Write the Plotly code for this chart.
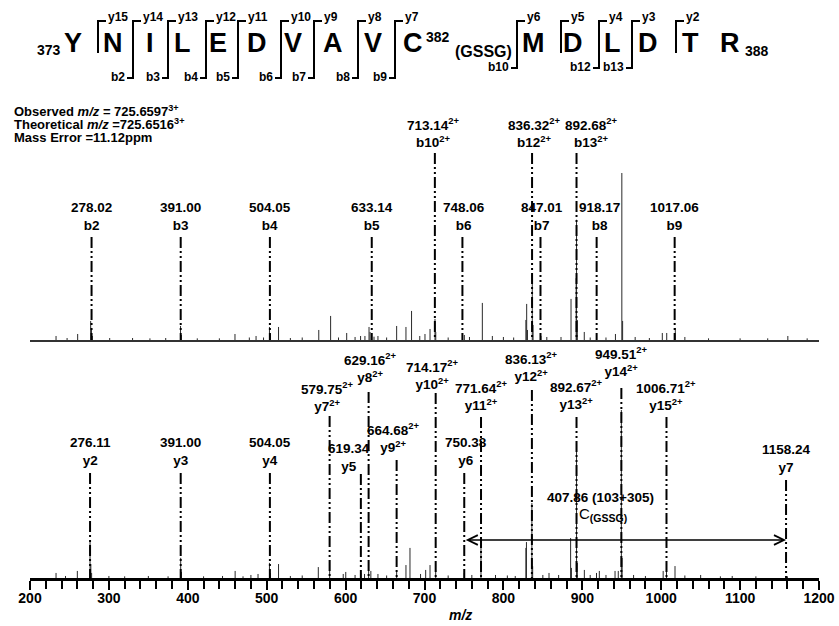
import plotly.graph_objects as go

FIG_W, FIG_H = 839, 626

# ---------------- peptide sequence (residues 373-388) ----------------
residues = ["Y", "N", "I", "L", "E", "D", "V", "A", "V", "C", "M", "D", "L", "D", "T", "R"]
start_no, cys_no, end_no = "373", "382", "388"
cys_mod = "(GSSG)"

# fragment cleavage marks between residues: y ion above, b ion below
cleave_y = ["y15", "y14", "y13", "y12", "y11", "y10", "y9", "y8", "y7", "y6", "y5", "y4", "y3", "y2"]
cleave_b = [None, "b2", "b3", "b4", "b5", "b6", "b7", "b8", "b9", "b10", None, "b12", "b13", None]

# precursor information
observed_mz = "725.6597"
theoretical_mz = "725.6516"
mass_error = "11.12ppm"

# ---------------- spectra (m/z, relative intensity %) ----------------
top_mz = [233.0, 247.0, 260.4, 276.9, 277.9, 279.0, 301.0, 330.0, 352.0, 372.0,
          390.8, 391.8, 412.0, 440.0, 459.8, 478.0, 486.5, 496.0, 503.5, 504.5,
          515.0, 530.0, 545.0, 566.0, 581.0, 591.0, 601.4, 612.0, 619.0, 624.5,
          629.7, 631.0, 636.0, 641.0, 652.0, 664.7, 676.5, 683.6, 694.0, 700.6,
          707.0, 713.3, 714.3, 730.0, 750.5, 757.0, 773.3, 786.0, 800.0, 813.0,
          828.5, 829.5, 830.5, 836.6, 837.6, 847.5, 855.0, 873.0, 885.7, 892.2,
          892.7, 893.7, 902.5, 910.0, 918.0, 930.0, 942.0, 950.1, 951.1, 967.0,
          985.0, 1001.4, 1007.0, 1017.9, 1030.0, 1060.0, 1100.0, 1135.0, 1160.5, 1185.0]
top_int = [2.4, 1.2, 3.6, 11.4, 7.2, 2.4, 1.2, 1.2, 1.0, 1.2,
           8.4, 3.0, 1.0, 1.0, 3.6, 1.5, 2.4, 1.5, 7.8, 4.0,
           7.8, 1.2, 1.5, 6.0, 14.4, 1.5, 4.2, 1.8, 2.4, 2.4,
           7.8, 4.8, 2.0, 2.4, 1.5, 8.4, 7.8, 17.4, 2.4, 3.6,
           6.6, 12.6, 4.8, 1.5, 3.0, 1.8, 22.2, 2.4, 1.8, 1.5,
           12.0, 21.6, 6.0, 39.0, 9.0, 2.4, 1.8, 1.8, 24.6, 37.0,
           72.0, 12.0, 4.8, 1.5, 3.0, 1.5, 3.6, 100.0, 11.4, 1.8,
           1.2, 4.2, 4.2, 7.2, 1.8, 1.0, 1.0, 1.0, 2.4, 1.0]

bot_mz = [233.0, 245.0, 260.0, 276.1, 277.1, 278.1, 300.0, 320.0, 350.0, 375.0,
          391.0, 392.0, 420.0, 444.0, 460.0, 470.0, 480.0, 489.0, 503.5, 504.5,
          515.0, 530.0, 545.0, 565.4, 579.8, 597.0, 600.2, 612.0, 619.3, 624.0,
          629.2, 632.0, 641.0, 652.0, 664.7, 676.5, 681.6, 695.0, 701.5, 707.0,
          714.2, 730.0, 750.4, 760.0, 771.6, 790.0, 805.0, 815.0, 828.5, 829.2,
          836.1, 837.1, 850.0, 857.8, 870.0, 885.2, 886.2, 892.7, 893.7, 902.6,
          910.0, 918.0, 921.6, 930.0, 941.5, 945.6, 949.5, 950.5, 965.0, 980.0,
          1002.5, 1006.7, 1017.5, 1030.0, 1050.0, 1075.0, 1090.0, 1120.0, 1160.0]
bot_int = [3.0, 1.2, 4.2, 22.6, 8.3, 3.0, 1.2, 1.0, 1.2, 1.0,
           12.0, 3.6, 1.0, 1.2, 4.2, 1.0, 1.8, 2.4, 9.0, 3.0,
           8.3, 1.2, 1.5, 6.5, 10.7, 2.4, 3.6, 1.8, 3.0, 2.4,
           4.8, 4.2, 2.4, 1.5, 3.6, 7.7, 17.9, 2.4, 4.8, 7.7,
           4.8, 1.5, 3.0, 1.8, 21.4, 1.8, 1.5, 1.2, 17.9, 21.4,
           44.6, 7.0, 1.8, 3.0, 1.8, 23.8, 6.0, 79.0, 9.0, 4.8,
           1.8, 3.0, 4.2, 1.8, 4.2, 4.2, 100.0, 11.9, 1.8, 1.2,
           4.2, 4.8, 7.1, 1.5, 1.8, 1.0, 1.2, 1.0, 1.0]

# ---------------- assigned fragment ions ----------------
b_names = ["b2", "b3", "b4", "b5", "b6", "b7", "b8", "b9", "b10", "b12", "b13"]
b_mz = [278.02, 391.00, 504.05, 633.14, 748.06, 847.01, 918.17, 1017.06, 713.14, 836.32, 892.68]
b_charge = [1, 1, 1, 1, 1, 1, 1, 1, 2, 2, 2]

y_names = ["y2", "y3", "y4", "y5", "y6", "y7", "y7", "y8", "y9", "y10", "y11", "y12", "y13", "y14", "y15"]
y_mz = [276.11, 391.00, 504.05, 619.34, 750.38, 1158.24, 579.75, 629.16, 664.68, 714.17,
        771.64, 836.13, 892.67, 949.51, 1006.71]
y_charge = [1, 1, 1, 1, 1, 1, 2, 2, 2, 2, 2, 2, 2, 2, 2]

gssg_parts = "(103+305)"

# ---------------- page geometry (pixels) ----------------
X0, X1 = 30, 819
BOT_BASE, TOP_BASE = 578, 340
BOT_PX_PER_PCT, TOP_PX_PER_PCT = 1.68, 1.67

residue_px = [73, 113, 150, 182, 218, 257, 293, 333, 373, 413, 533, 573, 612, 648, 690, 730]
cleave_px = [98, 133, 168, 206, 238, 281, 314, 358, 395, 517, 561, 599, 632, 676]

# label block centre / dash-line top for the y-ion labels
y_label_cy = [451.5, 451.5, 451.5, 457, 451.5, 458.5, 396, 367, 437.5, 374.5, 395, 366.5, 394.5, 361.5, 395]
y_line_top = [473, 473, 473, 474, 473, 480, 416, 392, 460, 393, 417, 390, 417, 388, 417]
y_label_dx = [0, 0, 0, -12, 2, 0, -2, 2, -3, -3, 0, 0, 0, 0, 0]
b_label_dx = [0, 0, 0, 0, 2, 2, 3, 0, -1, 2, 15]

FONT = "Liberation Sans"


def px_x(px):
    return px / FIG_W


def px_y(py):
    return 1 - py / FIG_H


def sticks(mz, inten):
    xs, ys = [], []
    for m, i in zip(mz, inten):
        xs += [m, m, None]
        ys += [0, i, None]
    return xs, ys


def page_text(text, px, py, size, xanchor="center", bold=True):
    """Text placed in page pixels."""
    return dict(x=px_x(px), y=px_y(py), xref="paper", yref="paper",
                xanchor=xanchor, yanchor="middle", showarrow=False,
                text=f"<b>{text}</b>" if bold else text,
                font=dict(family=FONT, size=size, color="black"))


fig = go.Figure()

tx, ty = sticks(top_mz, top_int)
fig.add_trace(go.Scatter(x=tx, y=ty, xaxis="x2", yaxis="y2", mode="lines",
                         line=dict(color="#2a2a2a", width=1), hoverinfo="skip", showlegend=False))
bx, by = sticks(bot_mz, bot_int)
fig.add_trace(go.Scatter(x=bx, y=by, xaxis="x", yaxis="y", mode="lines",
                         line=dict(color="#2a2a2a", width=1), hoverinfo="skip", showlegend=False))

shapes = []
annotations = []
DASH = "11px,3px,2px,3px,2px,3px"


def ion_label(mz, name, charge, cy, top, base, dx):
    sup = "<sup>2+</sup>" if charge == 2 else ""
    annotations.append(dict(
        x=mz, xref="x", y=px_y(cy), yref="paper", xanchor="center", yanchor="middle",
        xshift=dx, showarrow=False,
        text=f"<b>{mz:.2f}{sup}<br>{name}{sup}</b>",
        font=dict(family=FONT, size=13.5, color="black")))
    shapes.append(dict(type="line", xref="x", yref="paper", x0=mz, x1=mz,
                       y0=px_y(top), y1=px_y(base),
                       line=dict(color="black", width=2, dash=DASH), layer="above"))


for name, mz, ch, dx in zip(b_names, b_mz, b_charge, b_label_dx):
    cy, top = (216.5, 237) if ch == 1 else (132.5, 153)
    ion_label(mz, name, ch, cy, top, TOP_BASE, dx)

for name, mz, ch, cy, top, dx in zip(y_names, y_mz, y_charge, y_label_cy, y_line_top, y_label_dx):
    ion_label(mz, name, ch, cy, top, BOT_BASE, dx)

# double-headed arrow spanning the modified cysteine (y6 -> y7)
arrow_y = (BOT_BASE - 540) / BOT_PX_PER_PCT
y6_mz, y7_mz = y_mz[4], y_mz[5]
annotations.append(dict(
    x=y7_mz, y=arrow_y, xref="x", yref="y", ax=y6_mz, ay=arrow_y, axref="x", ayref="y",
    text="", showarrow=True, arrowhead=5, startarrowhead=5, arrowside="end+start",
    arrowwidth=1.5, arrowsize=1.3, startarrowsize=1.3, arrowcolor="black"))
annotations.append(page_text(f"{y7_mz - y6_mz:.2f} {gssg_parts}", 600, 497, 13.5))
annotations.append(page_text(f"C<sub><b>{cys_mod}</b></sub>", 603, 514, 15, bold=False))

# precursor info block
info = [f"Observed <i>m/z</i> = {observed_mz}<sup>3+</sup>",
        f"Theoretical <i>m/z</i> ={theoretical_mz}<sup>3+</sup>",
        f"Mass Error ={mass_error}"]
for line, cy in zip(info, [111, 124, 137]):
    annotations.append(page_text(line, 12, cy, 13, xanchor="left"))

# sequence header
for res, px in zip(residues, residue_px):
    annotations.append(page_text(res, px, 43, 27))
for txt, px, py, size in [(start_no, 49, 50, 14), (cys_no, 438, 37, 14),
                          (cys_mod, 483, 52, 16), (end_no, 757, 51, 14)]:
    annotations.append(page_text(txt, px, py, size))

for idx, (yl, bl, vx) in enumerate(zip(cleave_y, cleave_b, cleave_px)):
    after_cys = idx >= 9
    top = 21
    if bl is None:
        bottom = 53
        path = f"M {px_x(vx + 8)},{px_y(top)} L {px_x(vx)},{px_y(top)} L {px_x(vx)},{px_y(bottom)}"
    else:
        bottom = 68 if after_cys else 78
        path = (f"M {px_x(vx + 8)},{px_y(top)} L {px_x(vx)},{px_y(top)} "
                f"L {px_x(vx)},{px_y(bottom)} L {px_x(vx - 6)},{px_y(bottom)}")
        annotations.append(page_text(bl, vx - 6, bottom - 1, 12, xanchor="right"))
    shapes.append(dict(type="path", xref="paper", yref="paper", path=path,
                       line=dict(color="black", width=2)))
    annotations.append(page_text(yl, vx + 8, 17, 12, xanchor="left"))

# axis title
annotations.append(page_text("<i>m/z</i>", 460, 615, 14))

x_dom = [X0 / FIG_W, X1 / FIG_W]
fig.update_layout(
    width=FIG_W, height=FIG_H,
    margin=dict(l=0, r=0, t=0, b=0),
    paper_bgcolor="white", plot_bgcolor="white", showlegend=False,
    xaxis=dict(domain=x_dom, range=[200, 1200], anchor="y", showline=True, linecolor="black",
               linewidth=2.5, ticks="outside", ticklen=9, tickwidth=2, tickcolor="black",
               tick0=200, dtick=100, ticklabelstandoff=-4,
               minor=dict(dtick=20, ticks="outside", ticklen=8, tickwidth=1.8, tickcolor="black"),
               showgrid=False, zeroline=False, automargin=False,
               tickfont=dict(family=FONT, size=14, color="black", weight="bold")),
    yaxis=dict(domain=[px_y(BOT_BASE), 1], range=[0, BOT_BASE / BOT_PX_PER_PCT],
               visible=False),
    xaxis2=dict(domain=x_dom, range=[200, 1200], anchor="y2", showline=True, linecolor="#333",
                linewidth=1.5, ticks="", showticklabels=False, showgrid=False, zeroline=False),
    yaxis2=dict(domain=[px_y(TOP_BASE), 1], range=[0, TOP_BASE / TOP_PX_PER_PCT],
                visible=False),
    shapes=shapes,
    annotations=annotations,
)

fig.write_html("out.html")
